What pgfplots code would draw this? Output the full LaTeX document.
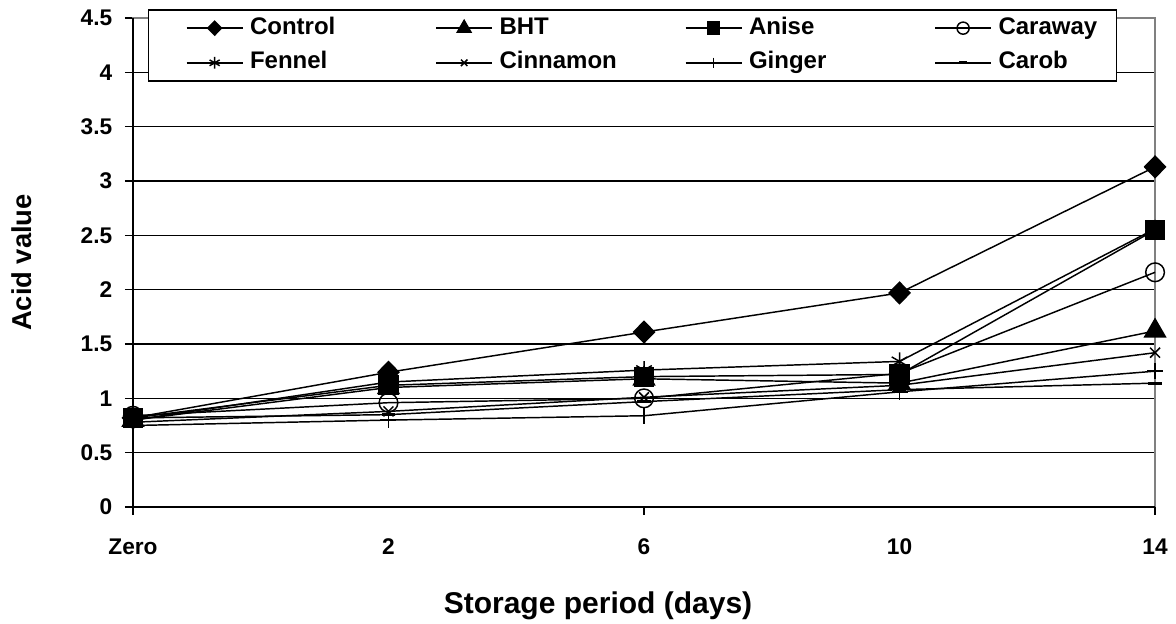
\documentclass[border=0pt]{standalone}
\usepackage{fontspec}
\setmainfont{Liberation Sans}
\usepackage{pgfplots}
\usepackage{pgfplotstable}
\pgfplotsset{compat=1.18}

% acid value against storage period (categories at 0..4)
\pgfplotstableread{
x Control BHT  Anise Caraway Fennel Cinnamon Ginger Carob
0 0.82    0.80 0.82  0.84    0.80   0.78     0.75   0.82
1 1.24    1.10 1.12  0.96    1.15   0.88     0.80   0.85
2 1.61    1.18 1.20  1.00    1.26   1.01     0.84   0.97
3 1.97    1.14 1.22  1.23    1.34   1.12     1.06   1.08
4 3.13    1.62 2.55  2.16    2.56   1.42     1.25   1.14
}\acid

\newcommand{\legtxt}[1]{\makebox[140pt][l]{\hspace*{3pt}#1}}

\begin{document}
\begin{tikzpicture}
\begin{axis}[
    scale only axis,
    width=766.5pt, height=366.75pt,
    xmin=0, xmax=4,
    ymin=0, ymax=4.5,
    clip=false,
    ytick={0,0.5,1,1.5,2,2.5,3,3.5,4,4.5},
    xtick={0,1,2,3,4},
    xticklabels={Zero,2,6,10,14},
    tick pos=left,
    tick align=outside,
    major tick length=6pt,
    tick style={black, line width=1pt},
    xtick style={draw=none},
    ymajorgrids=true,
    grid style={black, line width=1pt},
    axis line style={gray, line width=1pt},
    /pgf/number format/assume math mode=true,
    tick label style={font=\bfseries\fontsize{17}{20}\selectfont},
    xticklabel style={yshift=-14pt},
    yticklabel style={xshift=-6pt},
    every axis x label/.style={at={(rel axis cs:0.455,-0.2168)}, anchor=base,
        font=\bfseries\fontsize{22.5}{26}\selectfont},
    every axis y label/.style={at={(rel axis cs:-0.1086,0.5)}, rotate=90, anchor=center,
        font=\bfseries\fontsize{20.5}{24}\selectfont},
    xlabel={Storage period (days)},
    ylabel={Acid value},
    every axis plot/.append style={black, line width=1.1pt},
    legend image code/.code={
        \draw[mark repeat=2, mark phase=2, every mark/.append style={scale=0.65}, #1]
            plot coordinates {(0pt,0pt) (21pt,0pt) (42pt,0pt)};
    },
    legend columns=4,
    legend style={
        at={(rel axis cs:0.0147,1.0178)}, anchor=north west,
        draw=black, line width=1.1pt, fill=white,
        inner xsep=27.9pt, inner ysep=3.1pt,
        nodes={inner sep=2pt, text height=13pt, text depth=4pt},
        row sep=5pt,
        font=\bfseries\fontsize{18}{21}\selectfont,
        cells={anchor=west},
    },
]

\addplot[mark=diamond*, mark size=8pt, mark options={xscale=1.3}] table[y=Control] {\acid};
\addlegendentry{\legtxt{Control}}
\addplot[mark=triangle*, mark size=9pt] table[y=BHT] {\acid};
\addlegendentry{\legtxt{BHT}}
\addplot[mark=square*, mark size=7pt] table[y=Anise] {\acid};
\addlegendentry{\legtxt{Anise}}
\addplot[mark=o, mark size=7pt, mark options={fill=white}] table[y=Caraway] {\acid};
\addlegendentry{\makebox[61.5pt][l]{\hspace*{3pt}Caraway}}
\addplot[mark=asterisk, mark size=6.75pt] table[y=Fennel] {\acid};
\addlegendentry{\legtxt{Fennel}}
\addplot[mark=x, mark size=5.25pt] table[y=Cinnamon] {\acid};
\addlegendentry{\legtxt{Cinnamon}}
\addplot[mark=+, mark size=6pt] table[y=Ginger] {\acid};
\addlegendentry{\legtxt{Ginger}}
\addplot[mark=-, mark size=5pt, mark options={line width=2.25pt}] table[y=Carob] {\acid};
\addlegendentry{\makebox[61.5pt][l]{\hspace*{3pt}Carob}}

% black left and bottom axis lines over the grey frame
\draw[black, line width=1pt] (rel axis cs:0,1) -- (rel axis cs:0,0) -- (rel axis cs:1,0);
% x tick marks only every second category
\draw[black, line width=1pt] (axis cs:0,0) -- ++(0,-6pt);
\draw[black, line width=1pt] (axis cs:2,0) -- ++(0,-6pt);
\draw[black, line width=1pt] (axis cs:4,0) -- ++(0,-6pt);
% page size
\path (rel axis cs:-0.1301,-0.2352) rectangle (rel axis cs:1.0205,1.0368);
\end{axis}
\end{tikzpicture}
\end{document}
